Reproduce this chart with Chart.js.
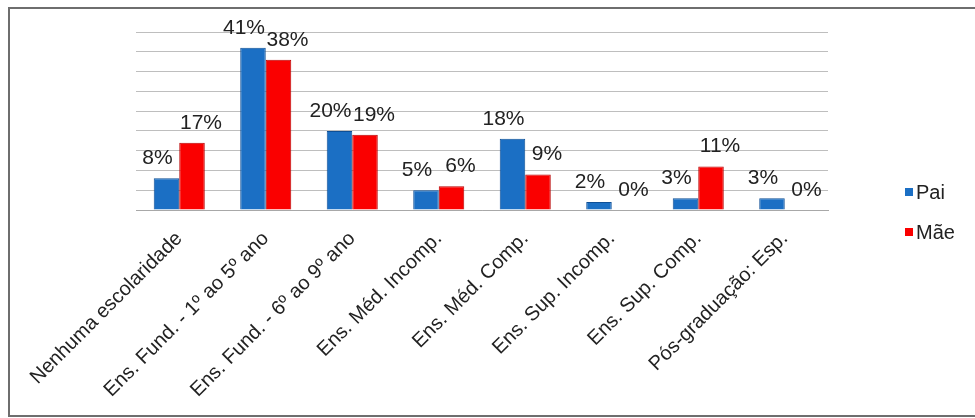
<!DOCTYPE html>
<html>
<head>
<meta charset="utf-8">
<script src="https://cdn.jsdelivr.net/npm/chart.js@4/dist/chart.umd.min.js"></script>
<style>
  html, body { margin: 0; padding: 0; background: #fff; }
  #wrap { position: relative; width: 975px; height: 418px; }
</style>
</head>
<body>
<div id="wrap"><canvas id="canvas"></canvas></div>
<script>
const categories = [
    'Nenhuma escolaridade',
    'Ens. Fund. - 1º ao 5º ano',
    'Ens. Fund. - 6º ao 9º ano',
    'Ens. Méd. Incomp.',
    'Ens. Méd. Comp.',
    'Ens. Sup. Incomp.',
    'Ens. Sup. Comp.',
    'Pós-graduação: Esp.'
];
const paiValues = [8, 41, 20, 5, 18, 2, 3, 3];
const maeValues = [17, 38, 19, 6, 9, 0, 11, 0];
const seriesNames = ['Pai', 'Mãe'];
const yMax = 45;
const yStep = 5;

const FONT = 'Arial, "Liberation Sans", sans-serif';
const TEXT = '#222222';

const ctx = document.getElementById('canvas').getContext('2d');

const data = {
    labels: categories,
    datasets: [
        {
            label: seriesNames[0],
            data: paiValues,
            backgroundColor: '#1b6fc4',
            borderColor: '#0e4f96',
            borderWidth: c => c.raw === 0 ? 0 : 1,
            barPercentage: 1,
            categoryPercentage: 0.59
        },
        {
            label: seriesNames[1],
            data: maeValues,
            backgroundColor: '#fa0000',
            borderColor: '#b80000',
            borderWidth: c => c.raw === 0 ? 0 : 1,
            barPercentage: 1,
            categoryPercentage: 0.59
        }
    ]
};

const config = {
    type: 'bar',
    data: data,
    options: {
        responsive: true,
        maintainAspectRatio: false,
        animation: false,
        layout: {
            padding: { top: 32, right: 147, left: 0, bottom: 0 }
        },
        plugins: {
            legend: { display: false },
            tooltip: { enabled: false }
        },
        scales: {
            x: {
                grid: { display: false },
                border: { display: true, color: '#a8a8a8', width: 1 },
                ticks: {
                    minRotation: 45,
                    maxRotation: 45,
                    autoSkip: false,
                    padding: 9,
                    color: TEXT,
                    font: { family: FONT, size: 20 }
                },
                afterFit: (scale) => { scale.height = 208; }
            },
            y: {
                min: 0,
                max: yMax,
                grid: {
                    color: '#bebebe',
                    drawTicks: false
                },
                border: { display: false },
                ticks: {
                    display: false,
                    stepSize: yStep
                },
                afterFit: (scale) => { scale.width = 136; }
            }
        }
    },
    plugins: [
        {
            id: 'frame',
            afterDraw: (chart) => {
                const c = chart.ctx;
                c.save();
                c.strokeStyle = '#6e6e6e';
                c.lineWidth = 2;
                c.strokeRect(9, 8, 980, 408);
                c.restore();
            }
        },
        {
            id: 'valueLabels',
            afterDatasetsDraw: (chart) => {
                const c = chart.ctx;
                c.save();
                c.font = '21px ' + FONT;
                c.fillStyle = TEXT;
                c.textAlign = 'center';
                c.textBaseline = 'alphabetic';
                chart.data.datasets.forEach((ds, di) => {
                    const meta = chart.getDatasetMeta(di);
                    meta.data.forEach((bar, i) => {
                        const shift = di === 0 ? -9 : 9;
                        c.fillText(ds.data[i] + '%', bar.x + shift, bar.y - 14);
                    });
                });
                c.restore();
            }
        },
        {
            id: 'sideLegend',
            afterDraw: (chart) => {
                const c = chart.ctx;
                c.save();
                c.font = '20px ' + FONT;
                c.textBaseline = 'middle';
                c.textAlign = 'left';
                chart.data.datasets.forEach((ds, di) => {
                    const y = 192 + di * 40;
                    c.fillStyle = ds.backgroundColor;
                    c.fillRect(905, y - 4, 8, 8);
                    c.fillStyle = TEXT;
                    c.fillText(ds.label, 916, y + 1);
                });
                c.restore();
            }
        }
    ]
};

const chart = new Chart(ctx, config);
</script>
</body>
</html>
